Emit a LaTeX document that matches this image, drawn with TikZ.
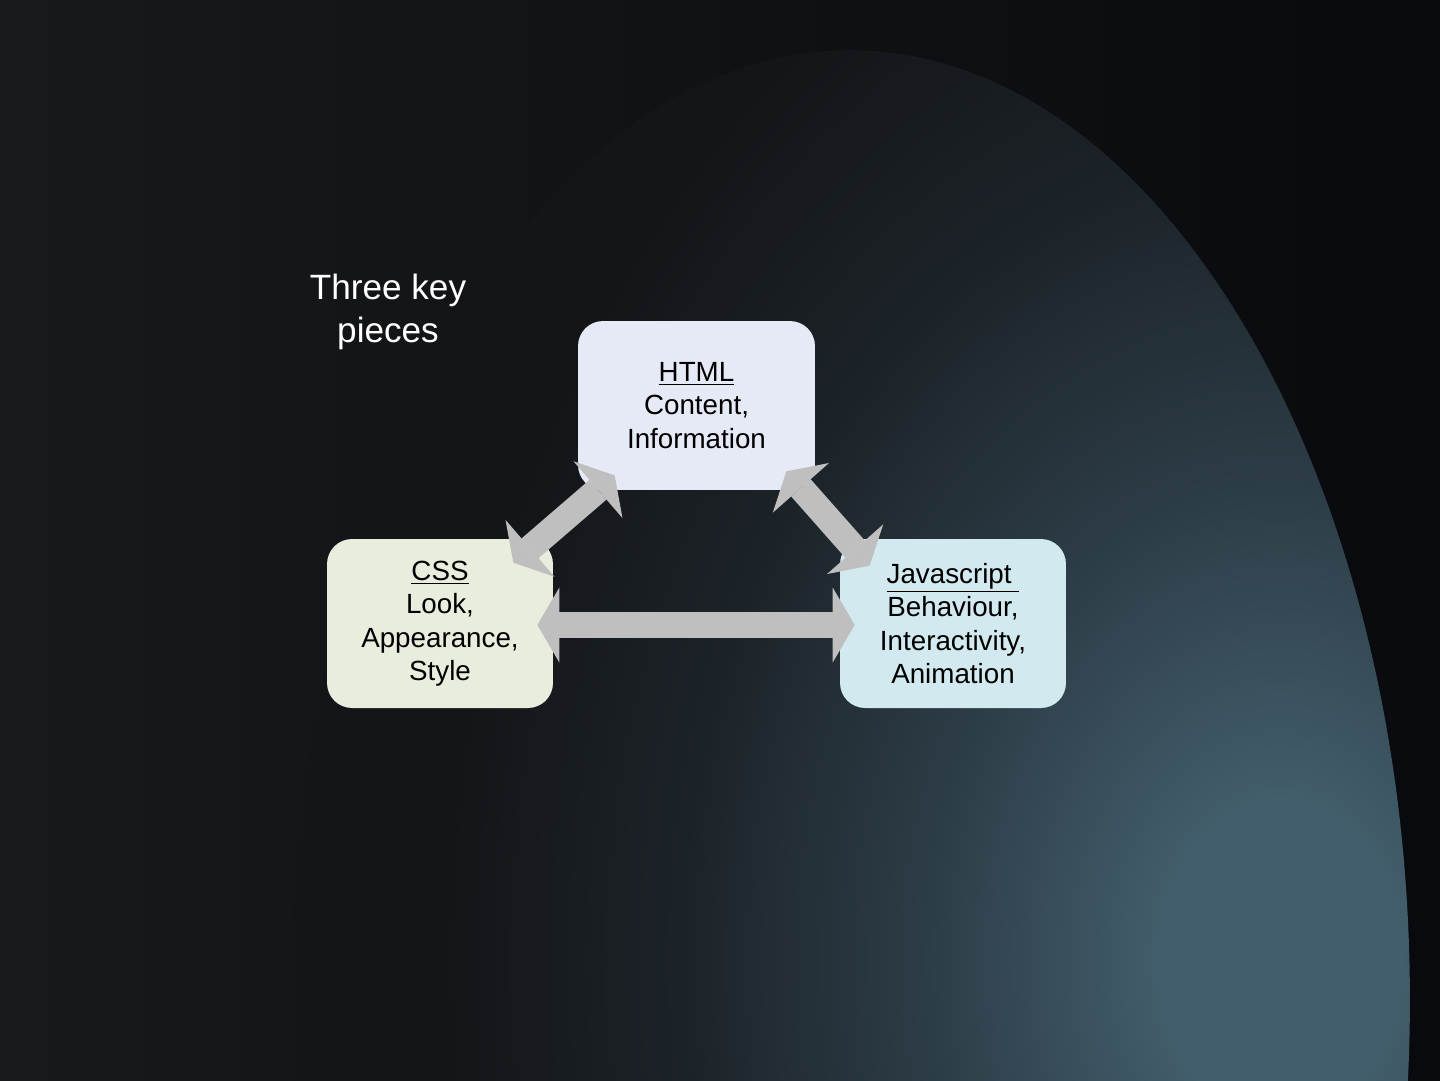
\documentclass[tikz,border=0pt]{standalone}
\usepackage{fontspec}
\setmainfont{Liberation Sans}
\usetikzlibrary{arrows.meta,positioning,calc}
\usepackage{xcolor}
\definecolor{bgleft}{RGB}{24, 25, 27}
\definecolor{bgmid}{RGB}{17, 19, 22}
\definecolor{bgright}{RGB}{8, 10, 13}
\definecolor{glowedge}{RGB}{19, 21, 24}
\definecolor{glowlow}{RGB}{28, 35, 40}
\definecolor{glowmid}{RGB}{44, 60, 70}
\definecolor{glowlight}{RGB}{66, 93, 107}
\definecolor{htmlbg}{RGB}{230, 234, 246}
\definecolor{cssbg}{RGB}{233, 237, 222}
\definecolor{jsbg}{RGB}{210, 233, 239}
\definecolor{arrowgray}{RGB}{191, 191, 191}
\pgfdeclareradialshading{spot}{\pgfpoint{0bp}{0bp}}{color(0bp)=(glowlight); color(2bp)=(glowlight); color(6bp)=(glowmid); color(10bp)=(glowlow); color(14bp)=(glowedge); color(50bp)=(glowedge)}

\tikzset{
  piece/.style={rounded corners=0.5cm, minimum width=4.52cm, minimum height=3.38cm, align=center, text=black, font=\fontsize{15.8}{19}\selectfont, inner sep=0pt},
  bigtip/.tip={Triangle[length=0.44cm, width=1.5cm, line width=0pt]},
  bigarrow/.style={arrowgray, line width=0.52cm, bigtip-bigtip},
}

\begin{document}
\begin{tikzpicture}[x=0.02cm, y=-0.02cm]
        \useasboundingbox (0,0) rectangle (1440,1080);
        % dark backdrop with the spot of light
        \shade[left color=bgleft, middle color=bgmid, right color=bgright] (0,0) rectangle (1440,1080);
        \begin{scope}
            \clip (850,1000) ellipse [x radius=11.2cm, y radius=19cm];
            \shade[shading=spot] (1280,960) ellipse [x radius=30cm, y radius=40cm];
        \end{scope}
        \node[text=white, align=center, font=\fontsize{20}{24.4}\selectfont] (title) at (388,312) {Three key\\pieces};
        \node[piece, fill=htmlbg, minimum width=4.74cm] (html) at (696.5,405.5) {\underline{HTML}\\Content,\\Information};
        \node[piece, fill=cssbg] (css) at (440,623.5) {\underline{CSS}\\Look,\\Appearance,\\Style};
        \node[piece, fill=jsbg] (js) at (953,623.5) {\underline{Javascript\ }\\Behaviour,\\Interactivity,\\Animation};
        \draw[bigarrow] ($(css.east)+(-16,1.5)$) -- ($(js.west)+(15,1.5)$);
        \draw[bigarrow] ($(css.north east)+(-40,24)$) -- ($(html.south west)+(37,-15)$);
        \draw[bigarrow] ($(html.south east)+(-29,-19)$) -- ($(js.north west)+(30,27)$);
    \end{tikzpicture}
\end{document}
